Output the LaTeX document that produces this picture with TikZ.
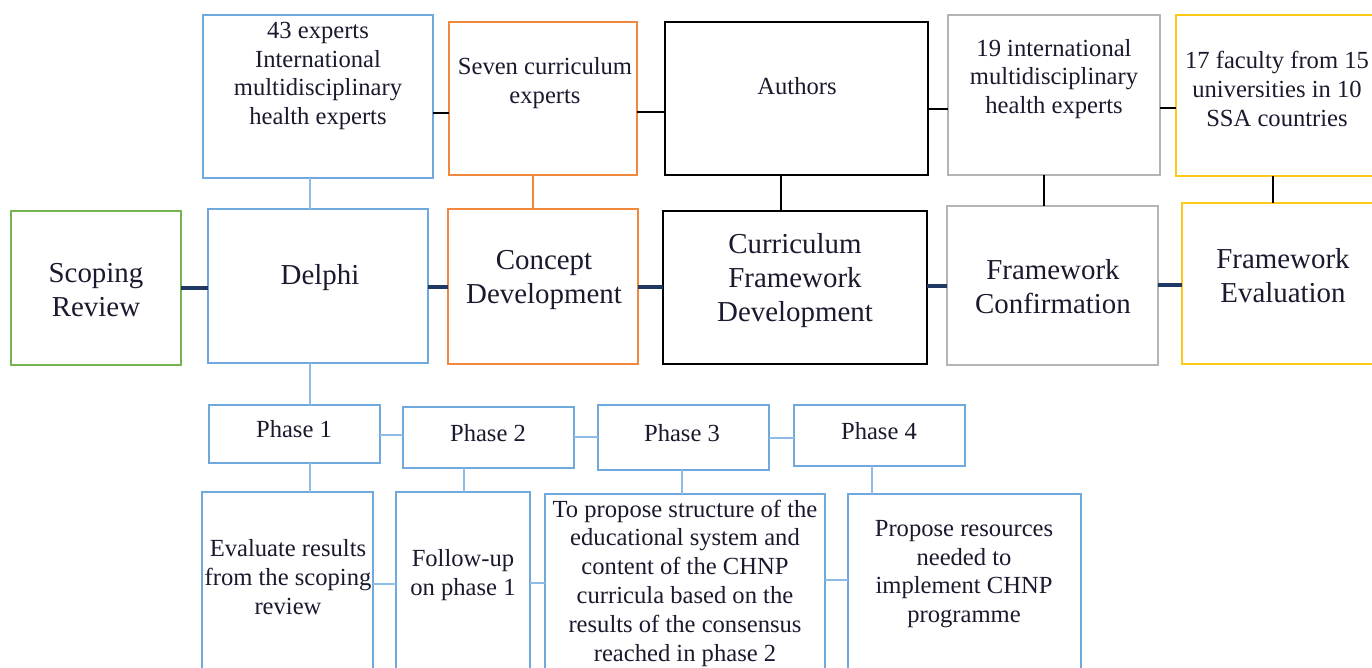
\documentclass[tikz,border=0pt]{standalone}
\usepackage{fontspec}
\setmainfont{Liberation Serif}
\definecolor{bblue}{HTML}{6FA8DC}
\definecolor{lblue}{HTML}{8FBCE6}
\definecolor{borange}{HTML}{F0883E}
\definecolor{bgray}{HTML}{B4B4B4}
\definecolor{byellow}{HTML}{FFC91A}
\definecolor{bgreen}{HTML}{77B255}
\definecolor{navy}{HTML}{1F3864}
\definecolor{txt}{HTML}{1A1A2E}
\tikzset{
  bx/.style={draw, line width=1.4pt, inner sep=0pt, outer sep=0pt, anchor=north west},
  sm/.style={align=center, text=txt, font=\fontsize{24.6}{28.8}\selectfont, inner sep=0pt},
  lg/.style={align=center, text=txt, font=\fontsize{28.9}{34}\selectfont, inner sep=0pt},
  navyline/.style={navy, line width=3.5pt},
  blkline/.style={black, line width=2pt},
  blueline/.style={lblue, line width=2pt},
}
\begin{document}
\begin{tikzpicture}[x=1pt,y=-1pt]
\useasboundingbox (0,0) rectangle (1372,668);
% top row
\node[bx, bblue, minimum width=230, minimum height=163] (e43) at (203,15) {};
\node[bx, borange, minimum width=188, minimum height=153] (seven) at (449,22) {};
\node[bx, black, line width=2pt, minimum width=263, minimum height=153] (authors) at (665,22) {};
\node[bx, bgray, minimum width=212, minimum height=160] (e19) at (948,15) {};
\node[bx, byellow, minimum width=209, minimum height=161] (e17) at (1176,15) {};
% middle row
\node[bx, bgreen, minimum width=170, minimum height=154] (scope) at (11,211) {};
\node[bx, bblue, minimum width=220, minimum height=154] (delphi) at (208,209) {};
\node[bx, borange, minimum width=190, minimum height=155] (concept) at (448,209) {};
\node[bx, black, line width=2pt, minimum width=264, minimum height=153] (cfd) at (663,211) {};
\node[bx, bgray, minimum width=211, minimum height=159] (fc) at (947,206) {};
\node[bx, byellow, minimum width=203, minimum height=161] (fe) at (1182,203) {};
% phases
\node[bx, bblue, minimum width=171, minimum height=58] (p1) at (209,405) {};
\node[bx, bblue, minimum width=171, minimum height=61] (p2) at (403,407) {};
\node[bx, bblue, minimum width=171, minimum height=65] (p3) at (598,405) {};
\node[bx, bblue, minimum width=171, minimum height=61] (p4) at (794,405) {};
% bottom
\node[bx, bblue, minimum width=171, minimum height=198] (b1) at (202,492) {};
\node[bx, bblue, minimum width=134, minimum height=198] (b2) at (396,492) {};
\node[bx, bblue, minimum width=280, minimum height=196] (b3) at (545,494) {};
\node[bx, bblue, minimum width=233, minimum height=196] (b4) at (848,494) {};
% texts
\node[sm] (t43) at (318,76) {43 experts\\International\\multidisciplinary\\health experts};
\node[sm] (tseven) at (545,83) {Seven curriculum\\experts};
\node[sm] (tauthors) at (797,86) {Authors};
\node[sm] (t19) at (1054,79) {19 international\\multidisciplinary\\health experts};
\node[sm] (t17) at (1277,89) {17 faculty from 15\\universities in 10\\SSA countries};
\node[lg] (tscope) at (96,290) {Scoping\\Review};
\node[lg] (tdelphi) at (320,278) {Delphi};
\node[lg] (tconcept) at (544,280) {Concept\\Development};
\node[lg] (tcfd) at (795,281) {Curriculum\\Framework\\Development};
\node[lg] (tfc) at (1053,287) {Framework\\Confirmation};
\node[lg] (tfe) at (1283,276) {Framework\\Evaluation};
\node[sm] (tp1) at (294,429) {Phase 1};
\node[sm] (tp2) at (488,433) {Phase 2};
\node[sm] (tp3) at (682,433) {Phase 3};
\node[sm] (tp4) at (879,431) {Phase 4};
\node[sm] (tb1) at (288,577) {Evaluate results\\from the scoping\\review};
\node[sm] (tb2) at (463,575) {Follow-up\\on phase 1};
\node[sm] (tb3) at (685,583) {To propose structure of the\\educational system and\\content of the CHNP\\curricula based on the\\results of the consensus\\reached in phase 2};
\node[sm] (tb4) at (964,574) {Propose resources\\needed to\\implement CHNP\\programme};
% top horizontal connectors
\draw[blkline] (e43.east |- 0,113) -- (seven.west |- 0,113);
\draw[blkline] (seven.east |- 0,112) -- (authors.west |- 0,112);
\draw[blkline] (authors.east |- 0,109) -- (e19.west |- 0,109);
\draw[blkline] (e19.east |- 0,108) -- (e17.west |- 0,108);
% vertical top to middle
\draw[blueline] (e43.south -| 310,0) -- (delphi.north -| 310,0);
\draw[borange, line width=2pt] (seven.south -| 533,0) -- (concept.north -| 533,0);
\draw[blkline] (authors.south -| 781,0) -- (cfd.north -| 781,0);
\draw[blkline] (e19.south -| 1044,0) -- (fc.north -| 1044,0);
\draw[blkline] (e17.south -| 1273,0) -- (fe.north -| 1273,0);
% middle navy connectors
\draw[navyline] (scope.east |- 0,288) -- (delphi.west |- 0,288);
\draw[navyline] (delphi.east |- 0,287) -- (concept.west |- 0,287);
\draw[navyline] (concept.east |- 0,287) -- (cfd.west |- 0,287);
\draw[navyline] (cfd.east |- 0,286) -- (fc.west |- 0,286);
\draw[navyline] (fc.east |- 0,285) -- (fe.west |- 0,285);
% delphi to phases
\draw[blueline] (delphi.south -| 310,0) -- (p1.north -| 310,0);
\draw[blueline] (p1.east |- 0,435) -- (p2.west |- 0,435);
\draw[blueline] (p2.east |- 0,437) -- (p3.west |- 0,437);
\draw[blueline] (p3.east |- 0,438) -- (p4.west |- 0,438);
% phases to bottom
\draw[blueline] (p1.south -| 310,0) -- (b1.north -| 310,0);
\draw[blueline] (p2.south -| 464,0) -- (b2.north -| 464,0);
\draw[blueline] (p3.south -| 682,0) -- (b3.north -| 682,0);
\draw[blueline] (p4.south -| 872,0) -- (b4.north -| 872,0);
\draw[blueline] (b1.east |- 0,584) -- (b2.west |- 0,584);
\draw[blueline] (b2.east |- 0,583) -- (b3.west |- 0,583);
\draw[blueline] (b3.east |- 0,580) -- (b4.west |- 0,580);
\end{tikzpicture}
\end{document}
